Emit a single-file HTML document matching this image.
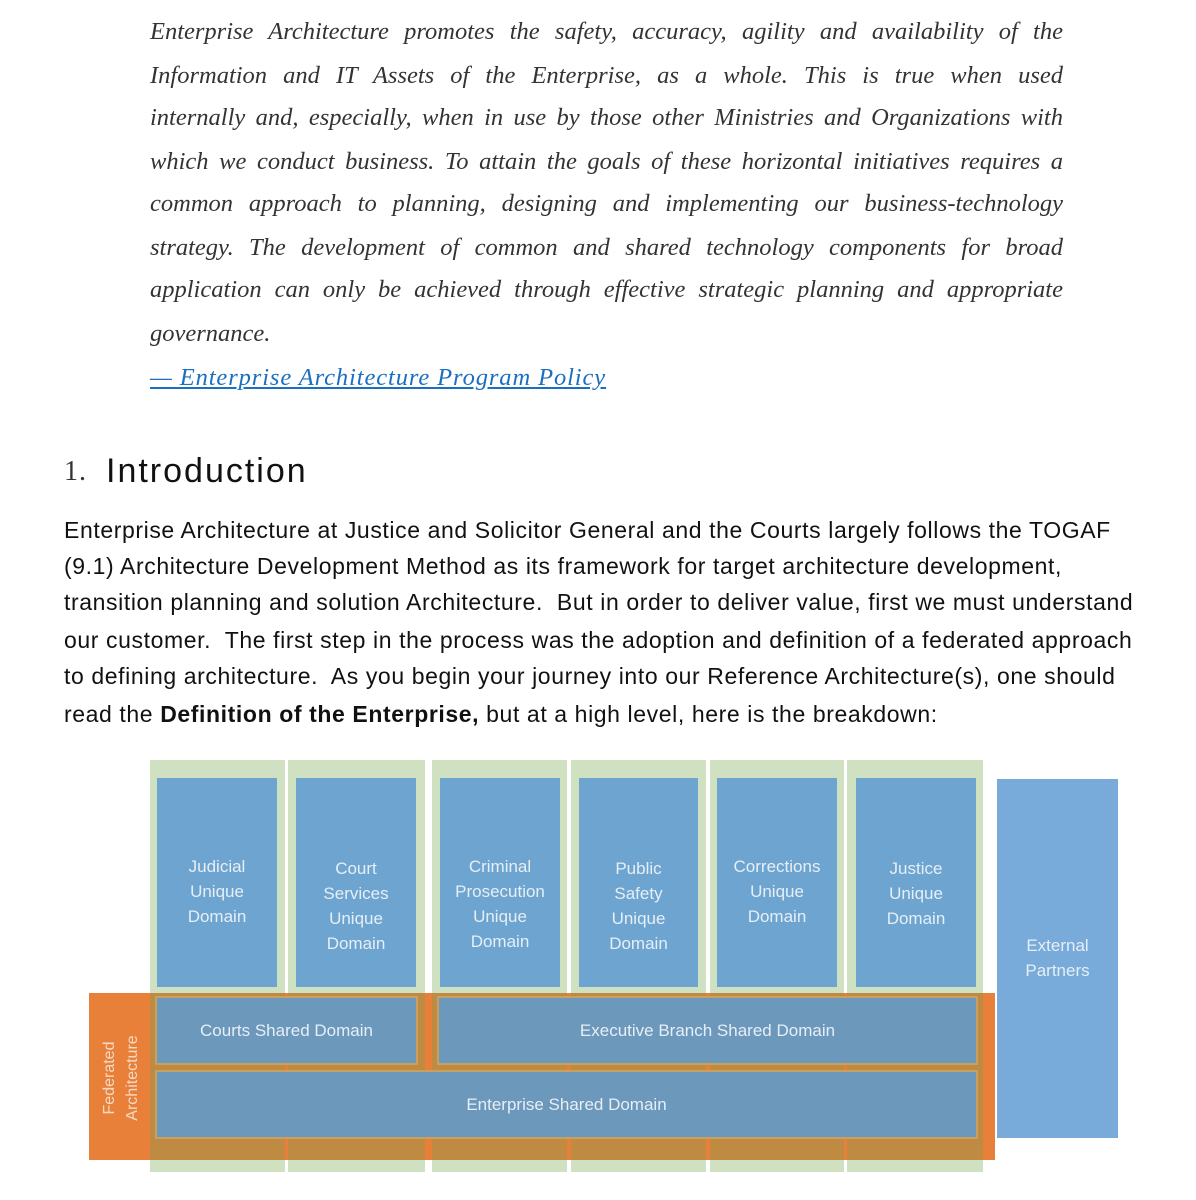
<!DOCTYPE html>
<html><head><meta charset="utf-8"><style>
body{margin:0;width:1196px;height:1200px;background:#fff;position:relative;overflow:hidden}
.q{position:absolute;left:150px;width:913px;font-family:"Liberation Serif",serif;font-style:italic;font-size:24.5px;color:#333;text-align:justify;text-align-last:justify;white-space:nowrap;line-height:30px}
.b{position:absolute;left:64px;font-family:"Liberation Sans",sans-serif;font-size:23px;color:#111;white-space:pre;line-height:30px;letter-spacing:0.6px}
.a{position:absolute}
.g{background:#d0e1c2;top:760px;height:412px}
.bl{background:#6ea5d0;top:778px;height:209px;color:#e6eef6;font-family:"Liberation Sans",sans-serif;font-size:17px;line-height:25px;text-align:center;padding-top:78px;box-sizing:border-box}
.go{background:#bf8b42;top:993px;height:167px}
.sh{background:#6c98bc;border:2px solid #c8a060;box-sizing:border-box;color:#e6eef6;font-family:"Liberation Sans",sans-serif;font-size:17px;display:flex;align-items:center;justify-content:center}
</style></head><body>
<div class="q" style="top:17px">Enterprise Architecture promotes the safety, accuracy, agility and availability of the</div>
<div class="q" style="top:61px">Information and IT Assets of the Enterprise, as a whole. This is true when used</div>
<div class="q" style="top:103px">internally and, especially, when in use by those other Ministries and Organizations with</div>
<div class="q" style="top:147px">which we conduct business. To attain the goals of these horizontal initiatives requires a</div>
<div class="q" style="top:189px">common approach to planning, designing and implementing our business-technology</div>
<div class="q" style="top:233px">strategy. The development of common and shared technology components for broad</div>
<div class="q" style="top:275px">application can only be achieved through effective strategic planning and appropriate</div>
<div class="q" style="top:319px;text-align-last:left">governance.</div>
<div class="q" style="top:363px;text-align-last:left;color:#1a6fc0;text-decoration:underline;letter-spacing:0.9px">— Enterprise Architecture Program Policy</div>
<div class="a" style="left:64px;top:456px;font-family:'Liberation Serif',serif;font-size:28px;color:#333;letter-spacing:1px">1.</div>
<div class="a" style="left:106px;top:452px;font-family:'Liberation Sans',sans-serif;font-size:34px;color:#111;letter-spacing:2px;white-space:nowrap">Introduction</div>
<div class="b" style="top:515px">Enterprise Architecture at Justice and Solicitor General and the Courts largely follows the TOGAF</div>
<div class="b" style="top:551px">(9.1) Architecture Development Method as its framework for target architecture development,</div>
<div class="b" style="top:587px">transition planning and solution Architecture.  But in order to deliver value, first we must understand</div>
<div class="b" style="top:625px">our customer.  The first step in the process was the adoption and definition of a federated approach</div>
<div class="b" style="top:661px">to defining architecture.  As you begin your journey into our Reference Architecture(s), one should</div>
<div class="b" style="top:699px">read the <b>Definition of the Enterprise,</b> but at a high level, here is the breakdown:</div>

<div class="a g" style="left:150px;width:135px"></div>
<div class="a g" style="left:288px;width:137px"></div>
<div class="a g" style="left:432px;width:135px"></div>
<div class="a g" style="left:571px;width:135px"></div>
<div class="a g" style="left:710px;width:134px"></div>
<div class="a g" style="left:847px;width:136px"></div>
<div class="a" style="left:89px;top:993px;width:906px;height:167px;background:#e8803a"></div>
<div class="a go" style="left:150px;width:135px"></div>
<div class="a go" style="left:288px;width:137px"></div>
<div class="a go" style="left:432px;width:135px"></div>
<div class="a go" style="left:571px;width:135px"></div>
<div class="a go" style="left:710px;width:134px"></div>
<div class="a go" style="left:847px;width:136px"></div>
<div class="a bl" style="left:157px;width:120px;padding-top:76px">Judicial<br>Unique<br>Domain</div>
<div class="a bl" style="left:296px;width:120px">Court<br>Services<br>Unique<br>Domain</div>
<div class="a bl" style="left:440px;width:120px;padding-top:76px">Criminal<br>Prosecution<br>Unique<br>Domain</div>
<div class="a bl" style="left:579px;width:119px">Public<br>Safety<br>Unique<br>Domain</div>
<div class="a bl" style="left:717px;width:120px;padding-top:76px">Corrections<br>Unique<br>Domain</div>
<div class="a bl" style="left:856px;width:120px">Justice<br>Unique<br>Domain</div>
<div class="a sh" style="left:155px;top:996px;width:263px;height:69px">Courts Shared Domain</div>
<div class="a sh" style="left:437px;top:996px;width:541px;height:69px">Executive Branch Shared Domain</div>
<div class="a sh" style="left:155px;top:1070px;width:823px;height:69px">Enterprise Shared Domain</div>
<div class="a" style="left:997px;top:779px;width:121px;height:359px;background:#78abd9;color:#e6eef6;font-family:'Liberation Sans',sans-serif;font-size:17px;line-height:25px;text-align:center;padding-top:154px;box-sizing:border-box">External<br>Partners</div>
<div class="a" style="left:43px;top:1053px;width:160px;height:50px;transform:rotate(-90deg);color:#f6d9c4;font-family:'Liberation Sans',sans-serif;font-size:16px;line-height:23px;text-align:center">Federated<br>Architecture</div>
</body></html>
